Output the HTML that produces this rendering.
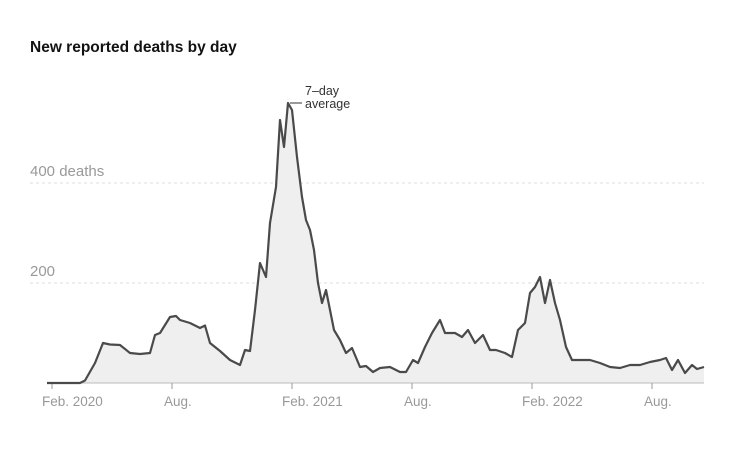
<!DOCTYPE html>
<html><head><meta charset="utf-8"><style>
body{margin:0;background:#fff;width:741px;height:452px;overflow:hidden;font-family:"Liberation Sans",sans-serif}
</style></head><body>
<svg width="741" height="452">
<text x="30" y="52" font-size="15.5" font-weight="bold" fill="#121212">New reported deaths by day</text>
<g id="grid"></g>
<path id="area" fill="#efefef"></path>
<line x1="47" x2="704" y1="383" y2="383" stroke="#bbb"/>
<g id="xaxis"></g>
<path id="line" fill="none" stroke="#4a4a4a" stroke-width="2.2" stroke-linejoin="round"></path>
<line id="annLine" stroke="#333" stroke-width="1"/>
<text x="305" y="95" font-size="12.5" fill="#333">7–day</text>
<text x="305" y="108" font-size="12.5" fill="#333">average</text>
</svg>
<script>
const months=[-0.25,1.4,1.65,2.15,2.55,2.9,3.4,3.9,4.4,4.9,
5.15,5.4,5.9,6.2,6.4,6.9,7.4,7.65,7.9,8.4,
8.9,9.4,9.65,9.9,10.15,10.4,10.7,10.9,11.2,11.4,
11.6,11.8,12.0,12.25,12.5,12.7,12.9,13.1,13.3,13.5,
13.7,13.9,14.1,14.4,14.7,15.0,15.4,15.7,16.05,16.4,
16.9,17.4,17.7,18.05,18.3,18.65,19.0,19.4,19.65,20.15,
20.5,20.8,21.15,21.55,21.9,22.2,22.65,23.0,23.3,23.65,
23.9,24.15,24.4,24.65,24.9,25.15,25.4,25.7,26.0,26.4,
26.9,27.4,27.9,28.4,28.9,29.4,29.9,30.4,30.7,31.0,
31.3,31.65,32.0,32.25,32.6];
const deaths=[0,0,5,40,80,77,76,60,58,60,
96,100,132,134,126,120,110,115,80,64,
46,36,66,64,146,240,212,320,392,526,
472,560,546,452,372,326,306,266,200,160,
186,146,106,86,60,70,32,34,22,30,
32,22,22,46,40,72,100,126,100,100,
92,106,80,96,66,66,60,52,106,120,
180,192,212,160,206,160,126,72,46,46,
46,40,32,30,36,36,42,46,50,26,
46,20,36,28,32];
const yTicks=[200,400], yLabels=['200','400 deaths'];
const xTicks=[0,6,12,18,24,30], xLabels=['Feb. 2020','Aug.','Feb. 2021','Aug.','Feb. 2022','Aug.'];
</script>
<script>
const n=Math.min(months.length,deaths.length);
const pts=[];for(let i=0;i<n;i++)pts.push([months[i],deaths[i]]);
const xScale=m=>52+m*20, yScale=v=>383-v*0.5;
const ns="http://www.w3.org/2000/svg";
let d=pts.map((p,i)=>(i?'L':'M')+xScale(p[0]).toFixed(1)+','+yScale(p[1]).toFixed(1)).join('');
document.getElementById('line').setAttribute('d',d);
document.getElementById('area').setAttribute('d',d+`L${xScale(pts[n-1][0])},383L${xScale(pts[0][0])},383Z`);
let mx=pts.reduce((a,b)=>b[1]>a[1]?b:a);
const al=document.getElementById('annLine');
al.setAttribute('x1',xScale(mx[0])+2);al.setAttribute('x2',302);al.setAttribute('y1',yScale(mx[1]));al.setAttribute('y2',yScale(mx[1]));
const g=document.getElementById('grid');
yTicks.forEach((t,i)=>{
 const l=document.createElementNS(ns,'line');
 
 
 l.setAttribute('x1',30);l.setAttribute('x2',704);l.setAttribute('y1',yScale(t));l.setAttribute('y2',yScale(t));
 l.setAttribute('stroke','#ddd');l.setAttribute('stroke-dasharray','3,3');g.appendChild(l);
 const tx=document.createElementNS(ns,'text');
 
 
 tx.setAttribute('x',30);tx.setAttribute('y',yScale(t)-7);tx.setAttribute('font-size','15');tx.setAttribute('fill','#999');
 tx.textContent=yLabels[i];g.appendChild(tx);
});
const xa=document.getElementById('xaxis');
xTicks.forEach((m,i)=>{
 const x=xScale(m);
 const l=document.createElementNS(ns,'line');
 
 
 l.setAttribute('x1',x);l.setAttribute('x2',x);l.setAttribute('y1',383);l.setAttribute('y2',389);l.setAttribute('stroke','#999');xa.appendChild(l);
 const tx=document.createElementNS(ns,'text');
 
 
 tx.setAttribute('x',x-(i%2?8:10));tx.setAttribute('y',406);tx.setAttribute('font-size','13.5');tx.setAttribute('fill','#999');
 tx.textContent=xLabels[i];xa.appendChild(tx);
});
</script>
</body></html>
